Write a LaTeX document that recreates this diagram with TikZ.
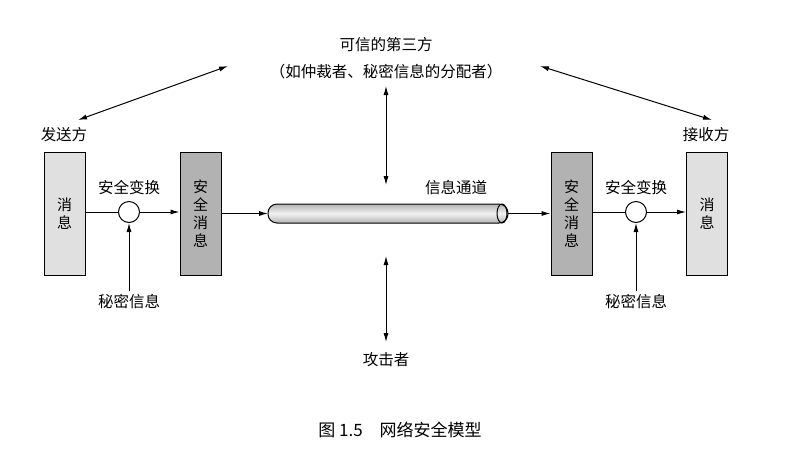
\documentclass[tikz,border=0pt]{standalone}
\usepackage{fontspec}
\setmainfont{Noto Sans CJK SC}
\usetikzlibrary{arrows.meta}
\tikzset{
  msgbox/.style={draw, line width=1pt, fill=black!12, minimum width=41pt,
    minimum height=123pt, inner sep=0pt, align=center, font=\fontsize{15}{18}\selectfont},
  secbox/.style={msgbox, fill=black!30},
  xform/.style={draw, line width=1pt, circle, fill=white, minimum size=21pt, inner sep=0pt},
  lbl/.style={font=\fontsize{15.5}{19}\selectfont},
  flow/.style={line width=1pt, -{Latex[length=9pt,width=5pt]}},
  both/.style={line width=1pt, {Latex[length=9pt,width=5pt]}-{Latex[length=9pt,width=5pt]}}
}
\begin{document}
\begin{tikzpicture}[x=1pt,y=-1pt]
  \useasboundingbox (0,0) rectangle (804,448);

  % sender side
  \node[msgbox] (msgL) at (64.5,213.5) {消\\息};
  \node[lbl] (sendr) at (64,135) {发送方};
  \node[xform] (xL) at (129,212) {};
  \node[lbl] (xLt) at (129,188) {安全变换};
  \node[secbox] (secL) at (200.5,213.5) {安\\全\\消\\息};
  \node[lbl] (keyL) at (129,302) {秘密信息};

  % channel
  \shade[top color=black!30, bottom color=black!30, middle color=black!5, draw, line width=1pt,
    rounded corners=9pt] (268,204) rectangle (508,223);
  \draw[line width=1pt] (502,213.5) ellipse (5pt and 9.5pt);
  \coordinate (pipeL) at (268,213.5);
  \coordinate (pipeR) at (508,213.5);
  \node[lbl] (chan) at (456,188) {信息通道};

  % receiver side
  \node[secbox] (secR) at (571.5,213.5) {安\\全\\消\\息};
  \node[xform] (xR) at (636,212) {};
  \node[lbl] (xRt) at (636,188) {安全变换};
  \node[msgbox] (msgR) at (707,213.5) {消\\息};
  \node[lbl] (recvr) at (706,135) {接收方};
  \node[lbl] (keyR) at (636,302) {秘密信息};

  % third party and opponent
  \node[lbl, align=center, font=\fontsize{15.5}{27}\selectfont] (trust) at (386,58) {可信的第三方\\（如仲裁者、秘密信息的分配者）};
  \node[lbl] (opp) at (386,360) {攻击者};
  \node[font=\fontsize{17}{20}\selectfont] (cap) at (400,430) {图 1.5\quad 网络安全模型};

  % connectors
  \draw[line width=1pt] (msgL.east |- xL) -- (xL);
  \draw[flow] (xL) -- (secL.west |- xL);
  \draw[flow] (secL.east |- pipeL) -- (pipeL);
  \draw[flow] (pipeR) -- (secR.west |- pipeR);
  \draw[line width=1pt] (secR.east |- xR) -- (xR);
  \draw[flow] (xR) -- (msgR.west |- xR);
  \draw[flow] (keyL.north) -- (xL);
  \draw[flow] (keyR.north) -- (xR);
  \draw[both] (78,120) -- (228,66);
  \draw[both] (540,66) -- (712,120);
  \draw[both] (386,86) -- (386,185);
  \draw[both] (386,256) -- (386,342);
\end{tikzpicture}
\end{document}
